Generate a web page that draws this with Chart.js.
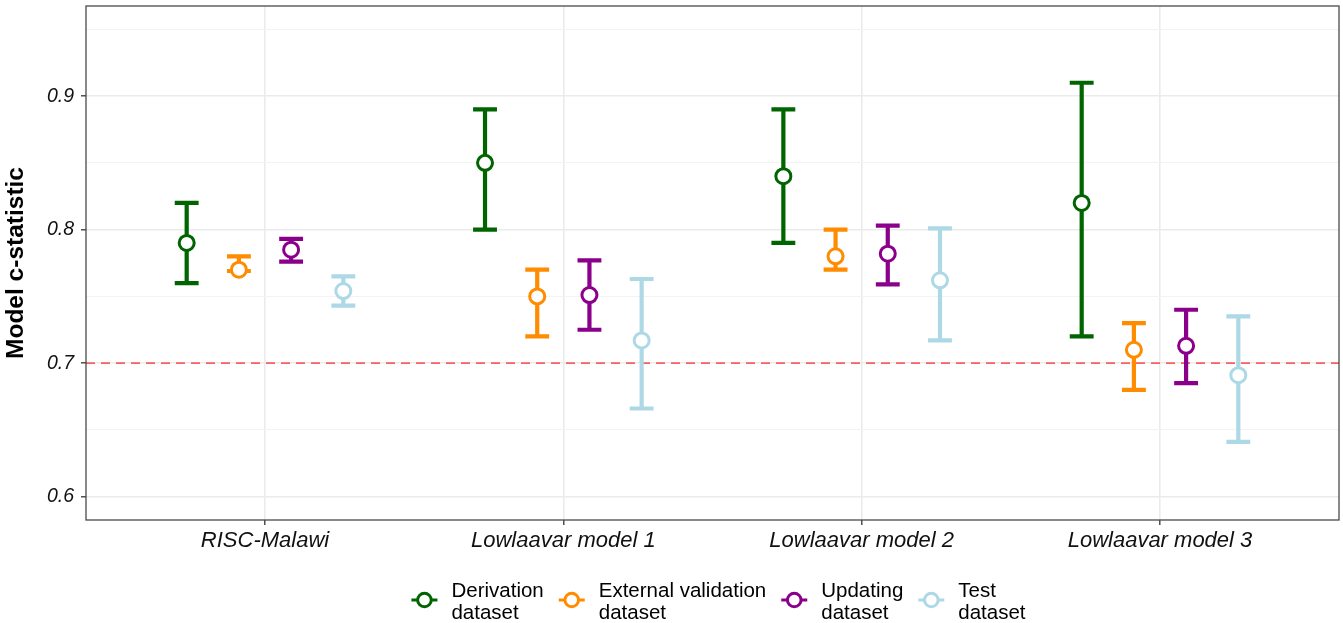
<!DOCTYPE html>
<html><head><meta charset="utf-8">
<script src="https://cdn.jsdelivr.net/npm/chart.js@4.4.1/dist/chart.umd.min.js"></script>
<style>html,body{margin:0;padding:0;background:#fff;}#wrap{width:1343px;height:623px;position:relative;}</style>
</head><body><div id="wrap"><canvas id="c" width="1343" height="623"></canvas></div>
<script>
const categories = ['RISC-Malawi', 'Lowlaavar model 1', 'Lowlaavar model 2', 'Lowlaavar model 3'];
const seriesNames = [['Derivation', 'dataset'], ['External validation', 'dataset'], ['Updating', 'dataset'], ['Test', 'dataset']];
const seriesColors = ['#006400', '#FF8C00', '#8B008B', '#ADD8E6'];

const derivationEst  = [0.790, 0.850, 0.840, 0.820];
const derivationLow  = [0.760, 0.800, 0.790, 0.720];
const derivationHigh = [0.820, 0.890, 0.890, 0.910];

const externalEst  = [0.770, 0.750, 0.780, 0.710];
const externalLow  = [0.769, 0.720, 0.770, 0.680];
const externalHigh = [0.780, 0.770, 0.800, 0.730];

const updatingEst  = [0.785, 0.751, 0.782, 0.713];
const updatingLow  = [0.776, 0.725, 0.759, 0.685];
const updatingHigh = [0.793, 0.777, 0.803, 0.740];

const testEst  = [0.754, 0.717, 0.762, 0.691];
const testLow  = [0.743, 0.666, 0.717, 0.641];
const testHigh = [0.765, 0.763, 0.801, 0.735];

const yTicks = [0.6, 0.65, 0.7, 0.75, 0.8, 0.85, 0.9, 0.95];
const yMajor = [0.6, 0.7, 0.8, 0.9];
const refLine = 0.7;
const yLimits = [0.6, 0.95];

const estimates = [derivationEst, externalEst, updatingEst, testEst];
const lows = [derivationLow, externalLow, updatingLow, testLow];
const highs = [derivationHigh, externalHigh, updatingHigh, testHigh];

const DODGE = 0.7, CAP = 0.08;
const nS = estimates.length;
const yExp = (yLimits[1] - yLimits[0]) * 0.05;

const datasets = estimates.map((est, s) => ({
  label: seriesNames[s].join(' '),
  data: est.map((v, i) => ({ x: i + 1 + (s - (nS - 1) / 2) * DODGE / nS, y: v })),
  lo: lows[s], hi: highs[s],
  borderColor: seriesColors[s],
  backgroundColor: '#ffffff',
  pointBackgroundColor: '#ffffff',
  pointBorderColor: seriesColors[s],
  pointRadius: 7.5, pointBorderWidth: 3, pointHoverRadius: 7.5,
  clip: false
}));

const isMajor = v => yMajor.some(m => Math.abs(m - v) < 1e-9);
const FONT = '"Liberation Sans", Arial, sans-serif';

const errPlugin = {
  id: 'errbars',
  beforeDatasetsDraw(chart) {
    const { ctx, chartArea, scales: { x, y } } = chart;
    ctx.save();
    ctx.strokeStyle = 'rgba(255,0,0,0.6)';
    ctx.lineWidth = 1.6;
    ctx.setLineDash([9, 6]);
    const ry = y.getPixelForValue(refLine);
    ctx.beginPath(); ctx.moveTo(chartArea.left, ry); ctx.lineTo(chartArea.right, ry); ctx.stroke();
    ctx.setLineDash([]);
    chart.data.datasets.forEach(ds => {
      ctx.strokeStyle = ds.borderColor;
      ctx.lineWidth = 4.2;
      ctx.lineCap = 'butt';
      ds.data.forEach((p, i) => {
        const px = x.getPixelForValue(p.x);
        const hw = x.getPixelForValue(p.x + CAP / 2) - px;
        const yl = y.getPixelForValue(ds.lo[i]);
        const yh = y.getPixelForValue(ds.hi[i]);
        ctx.beginPath();
        ctx.moveTo(px, yl); ctx.lineTo(px, yh);
        ctx.moveTo(px - hw, yl); ctx.lineTo(px + hw, yl);
        ctx.moveTo(px - hw, yh); ctx.lineTo(px + hw, yh);
        ctx.stroke();
      });
    });
    ctx.restore();
  },
  afterDraw(chart) {
    const { ctx, chartArea } = chart;
    ctx.save();
    ctx.strokeStyle = '#4a4a4a';
    ctx.lineWidth = 1.3;
    ctx.strokeRect(chartArea.left, chartArea.top, chartArea.right - chartArea.left, chartArea.bottom - chartArea.top);
    ctx.font = '20.5px ' + FONT;
    ctx.textBaseline = 'alphabetic';
    ctx.textAlign = 'left';
    const symW = 26, textOff = 40, gap = 15;
    const widths = seriesNames.map(l => Math.max(...l.map(t => ctx.measureText(t).width)));
    const total = widths.reduce((a, w) => a + textOff + w, 0) + gap * (nS - 1);
    let xPos = (chartArea.left + chartArea.right) / 2 + 6 - total / 2;
    const symY = 600, base1 = 597, base2 = 618.5;
    seriesNames.forEach((lines, s) => {
      ctx.strokeStyle = seriesColors[s];
      ctx.lineWidth = 3;
      ctx.beginPath(); ctx.moveTo(xPos, symY); ctx.lineTo(xPos + symW, symY); ctx.stroke();
      ctx.beginPath(); ctx.arc(xPos + symW / 2, symY, 6.8, 0, Math.PI * 2);
      ctx.fillStyle = '#fff'; ctx.fill(); ctx.stroke();
      ctx.fillStyle = '#000';
      ctx.fillText(lines[0], xPos + textOff, base1);
      ctx.fillText(lines[1], xPos + textOff, base2);
      xPos += textOff + widths[s] + gap;
    });
    ctx.restore();
  }
};

new Chart(document.getElementById('c'), {
  type: 'scatter',
  data: { datasets },
  options: {
    responsive: false, animation: false,
    layout: { autoPadding: false, padding: { left: 0, right: 4, top: 6, bottom: 0 } },
    plugins: { legend: { display: false }, tooltip: { enabled: false } },
    scales: {
      x: {
        type: 'linear', min: 0.4, max: categories.length + 0.6,
        afterBuildTicks: sc => { sc.ticks = categories.map((c, i) => ({ value: i + 1 })); },
        afterFit: sc => { sc.height = 103; sc.paddingLeft = 0; sc.paddingRight = 0; },
        ticks: {
          autoSkip: false, maxRotation: 0, padding: 3, color: '#111',
          font: { family: FONT, size: 22, style: 'italic' },
          callback: v => categories[Math.round(v) - 1]
        },
        grid: { color: '#EBEBEB', lineWidth: 1.6, tickLength: 5, tickColor: '#333', tickWidth: 1.3 },
        border: { display: false }
      },
      y: {
        type: 'linear', min: yLimits[0] - yExp, max: yLimits[1] + yExp,
        afterBuildTicks: sc => { sc.ticks = yTicks.map(v => ({ value: v })); },
        afterFit: sc => { sc.width = 86; sc.paddingTop = 0; sc.paddingBottom = 0; },
        title: { display: true, text: 'Model c-statistic', color: '#000',
          font: { family: FONT, size: 24.5, weight: 'bold' }, padding: { top: 2, bottom: 0 } },
        ticks: {
          autoSkip: false, padding: 7, color: '#111',
          font: { family: FONT, size: 19.5, style: 'italic' },
          callback: v => isMajor(v) ? v.toFixed(1) : ''
        },
        grid: {
          color: c => isMajor(c.tick.value) ? '#EBEBEB' : '#F3F3F3',
          lineWidth: c => isMajor(c.tick.value) ? 1.6 : 1,
          tickLength: 5,
          tickColor: c => isMajor(c.tick.value) ? '#333' : 'rgba(0,0,0,0)',
          tickWidth: 1.3
        },
        border: { display: false }
      }
    }
  },
  plugins: [errPlugin]
});
</script></body></html>
